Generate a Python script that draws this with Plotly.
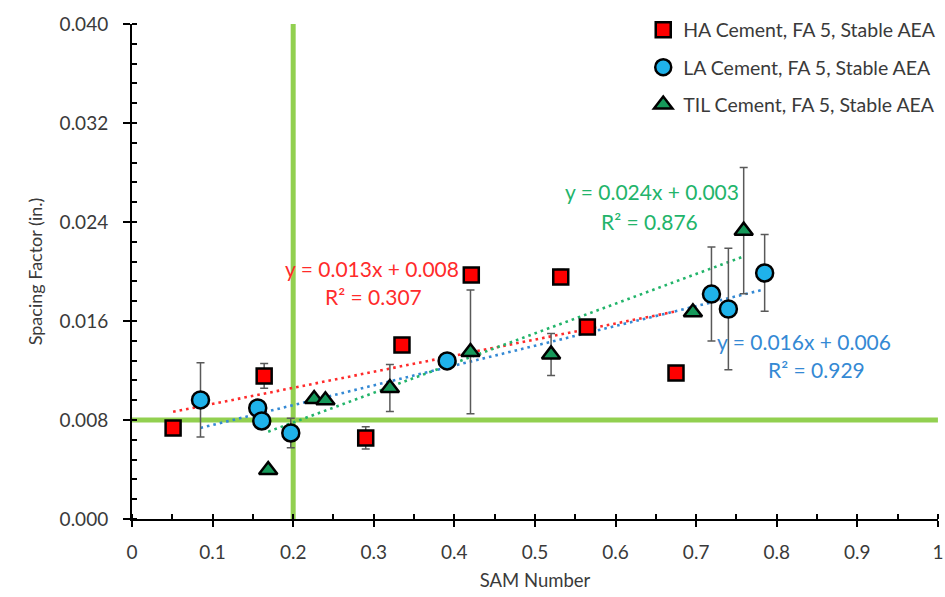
import plotly.graph_objects as go

# SAM number vs. spacing factor for three cement types (FA 5, stable AEA)
ha_sam = [0.051, 0.164, 0.290, 0.335, 0.421, 0.532, 0.565, 0.675]
ha_sf = [0.00735, 0.01156, 0.00655, 0.01406, 0.01972, 0.01956, 0.01552, 0.01180]
ha_err = [0.0, 0.0010, 0.0009, 0.0, 0.0, 0.0006, 0.0, 0.0]

la_sam = [0.085, 0.156, 0.161, 0.197, 0.391, 0.719, 0.740, 0.785]
la_sf = [0.00962, 0.00897, 0.00792, 0.00695, 0.01277, 0.01818, 0.01697, 0.01988]
la_err = [0.0030, 0.0, 0.0, 0.0012, 0.0, 0.0038, 0.0049, 0.0031]

til_sam = [0.169, 0.226, 0.240, 0.320, 0.420, 0.520, 0.696, 0.759]
til_sf = [0.00396, 0.00970, 0.00960, 0.01059, 0.01350, 0.01330, 0.01670, 0.02330]
til_err = [0.0, 0.0, 0.0, 0.0019, 0.0050, 0.0017, 0.0, 0.0051]

# linear trendlines: (slope, intercept, R²)
ha_fit = (0.013, 0.008, 0.307)
la_fit = (0.016, 0.006, 0.929)
til_fit = (0.024, 0.003, 0.876)

# acceptance limits
sam_limit = 0.2
sf_limit = 0.008

x_ticks = [0, 0.1, 0.2, 0.3, 0.4, 0.5, 0.6, 0.7, 0.8, 0.9, 1]
x_tick_text = ["0", "0.1", "0.2", "0.3", "0.4", "0.5", "0.6", "0.7", "0.8", "0.9", "1"]
y_ticks = [0.000, 0.008, 0.016, 0.024, 0.032, 0.040]
y_tick_text = ["0.000", "0.008", "0.016", "0.024", "0.032", "0.040"]

FONT = "Lato"
TXT = "#3a3a3a"
RED, BLUE, GREEN = "#ff0000", "#1fb2ea", "#16995a"
RED_T, BLUE_T, GREEN_T = "#ff2b2b", "#3489d4", "#22b46a"
LIMIT_GREEN = "#92d050"
ERR = "#595959"

fig = go.Figure()

# limit lines
fig.add_trace(go.Scatter(x=[sam_limit, sam_limit], y=[0, 0.040], mode="lines",
                         line=dict(color=LIMIT_GREEN, width=5), showlegend=False,
                         hoverinfo="skip"))
fig.add_trace(go.Scatter(x=[0, 1], y=[sf_limit, sf_limit], mode="lines",
                         line=dict(color=LIMIT_GREEN, width=5), showlegend=False,
                         hoverinfo="skip"))


def trend(xs, fit, color):
    m, b, _ = fit
    x0, x1 = min(xs), max(xs)
    return go.Scatter(x=[x0, x1], y=[m * x0 + b, m * x1 + b], mode="lines",
                      line=dict(color=color, width=2.6, dash="2.6px,4px"),
                      showlegend=False, hoverinfo="skip")


fig.add_trace(trend(ha_sam, ha_fit, RED_T))
fig.add_trace(trend(la_sam, la_fit, BLUE_T))
fig.add_trace(trend(til_sam, til_fit, GREEN_T))

err_style = dict(type="data", visible=True, color=ERR, thickness=1.5, width=4)

fig.add_trace(go.Scatter(
    x=ha_sam, y=ha_sf, mode="markers", name="HA Cement, FA 5, Stable AEA",
    legendgroup="ha",
    marker=dict(symbol="square", size=15, color=RED, line=dict(color="black", width=2.5)),
    error_y=dict(array=ha_err, **err_style)))
fig.add_trace(go.Scatter(
    x=la_sam, y=la_sf, mode="markers", name="LA Cement, FA 5, Stable AEA",
    legendgroup="la",
    marker=dict(symbol="circle", size=17, color=BLUE, line=dict(color="black", width=2.5)),
    error_y=dict(array=la_err, **err_style)))
fig.add_trace(go.Scatter(
    x=til_sam, y=til_sf, mode="markers", name="TIL Cement, FA 5, Stable AEA",
    legendgroup="til",
    marker=dict(symbol="triangle-up", size=16, color=GREEN, line=dict(color="black", width=2.5)),
    error_y=dict(array=til_err, **err_style)))


def eq_text(fit):
    m, b, r2 = fit
    return f"y = {m:.3f}x + {b:.3f}", f"R² = {r2:.3f}"


annos = []
for fit, color, (x1, y1), (x2, y2) in [
    (ha_fit, RED_T, (0.298, 0.02028), (0.300, 0.01802)),
    (til_fit, GREEN_T, (0.645, 0.02650), (0.642, 0.02408)),
    (la_fit, BLUE_T, (0.834, 0.01438), (0.849, 0.01212)),
]:
    l1, l2 = eq_text(fit)
    annos.append(dict(x=x1, y=y1, text=l1, showarrow=False, xref="x", yref="y",
                      font=dict(family=FONT, size=21, color=color)))
    annos.append(dict(x=x2, y=y2, text=l2, showarrow=False, xref="x", yref="y",
                      font=dict(family=FONT, size=21, color=color)))

fig.update_layout(
    width=945, height=597,
    margin=dict(l=132, r=4, t=24, b=78),
    paper_bgcolor="white", plot_bgcolor="white",
    font=dict(family=FONT, size=18, color=TXT),
    showlegend=True,
    legend=dict(x=1.004, xanchor="right", y=1.027, yanchor="top",
                bgcolor="rgba(255,255,255,0)", tracegroupgap=9,
                font=dict(family=FONT, size=19.5, color=TXT),
                itemwidth=30),
    annotations=annos,
    xaxis=dict(range=[0, 1.0001], tickvals=x_ticks, ticktext=x_tick_text,
               automargin=False,
               showgrid=False, zeroline=False, showline=True,
               linecolor="black", linewidth=2, ticks="outside", ticklen=6,
               tickwidth=2, tickcolor="black", ticklabelstandoff=9,
               tickfont=dict(family=FONT, size=19, color=TXT),
               minor=dict(dtick=0.05, ticks="inside", ticklen=5, tickwidth=2,
                          tickcolor="black", showgrid=False),
               title=dict(text="SAM Number", standoff=12,
                          font=dict(family=FONT, size=18.5, color=TXT))),
    yaxis=dict(range=[0, 0.040], tickvals=y_ticks, ticktext=y_tick_text,
               automargin=False,
               showgrid=False, zeroline=False, showline=True,
               linecolor="black", linewidth=2, ticks="outside", ticklen=7,
               tickwidth=2, tickcolor="black", ticklabelstandoff=11,
               tickfont=dict(family=FONT, size=19, color=TXT),
               minor=dict(dtick=0.0016, ticks="inside", ticklen=5, tickwidth=2,
                          tickcolor="black", showgrid=False),
               title=dict(text="Spacing Factor (in.)", standoff=12,
                          font=dict(family=FONT, size=18, color=TXT))),
)

fig.write_html("out.html")
